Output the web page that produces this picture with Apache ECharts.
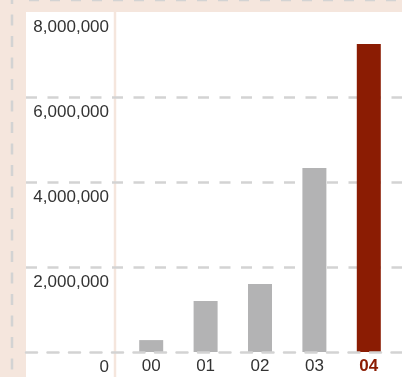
<!DOCTYPE html>
<html>
<head>
<meta charset="utf-8">
<style>
  html, body { margin: 0; padding: 0; background: #f5e6dd; }
  #chart { width: 402px; height: 377px; }
</style>
<script src="https://cdn.jsdelivr.net/npm/echarts@6/dist/echarts.min.js"></script>
</head>
<body>
<div id="chart"></div>
<script>
// Yearly totals, '00 through '04
const categories = ['00', '01', '02', '03', '04'];
const values = [280000, 1200000, 1600000, 4330000, 7250000];
const yTicks = { min: 0, max: 8000000, interval: 2000000 };

const BEIGE = '#f5e6dd';
const GRID_GRAY = '#d3d3d3';
const BAR_GRAY = '#b3b3b4';
const ACCENT = '#8b1c03';
const TEXT = '#333333';
const FONT = '"Liberation Sans", Arial, sans-serif';

const last = categories.length - 1;

const chart = echarts.init(document.getElementById('chart'), null, { renderer: 'canvas' });

const dashed = { color: GRID_GRAY, width: 2.5, type: [11, 10.5] };

chart.setOption({
  backgroundColor: BEIGE,
  animation: false,
  graphic: [
    // white plotting panel
    { type: 'rect', z: -5, silent: true,
      shape: { x: 26, y: 12, width: 376, height: 365 },
      style: { fill: '#ffffff' } },
    // beige rule beside the value labels
    { type: 'line', z: -4, silent: true,
      shape: { x1: 115, y1: 12, x2: 115, y2: 377 },
      style: { stroke: BEIGE, lineWidth: 2.5 } },
    // dashed frame edges in the margin
    { type: 'line', z: -4, silent: true,
      shape: { x1: 12, y1: 0, x2: 12, y2: 377 },
      style: { stroke: GRID_GRAY, lineWidth: 2.5, lineDash: [11, 10.5], lineDashOffset: 7 } },
    { type: 'line', z: -4, silent: true,
      shape: { x1: 29, y1: 0, x2: 402, y2: 0 },
      style: { stroke: GRID_GRAY, lineWidth: 2.5, lineDash: [10, 11] } }
  ],
  grid: [
    // full-width grid carrying the dashed guide lines
    { left: 26, right: 0, top: 12, bottom: 25 },
    // grid holding the bars
    { left: 124, right: 6, top: 12, bottom: 25 }
  ],
  xAxis: [
    { gridIndex: 0, type: 'value', min: 0, max: 1, z: 3,
      axisLine: { show: true, lineStyle: dashed },
      axisTick: { show: false }, axisLabel: { show: false }, splitLine: { show: false } },
    { gridIndex: 1, type: 'category',
      data: categories.map((c, i) => i === last
        ? { value: c, textStyle: { color: ACCENT, fontWeight: 'bold' } }
        : c),
      axisLine: { show: false }, axisTick: { show: false },
      axisLabel: { color: TEXT, fontFamily: FONT, fontSize: 17, margin: 6, lineHeight: 17 } }
  ],
  yAxis: [
    { gridIndex: 0, type: 'value', min: yTicks.min, max: yTicks.max, interval: yTicks.interval,
      axisLine: { show: false }, axisTick: { show: false }, axisLabel: { show: false },
      splitLine: { show: true, showMinLine: false, showMaxLine: false, lineStyle: dashed } },
    { gridIndex: 1, type: 'value', min: yTicks.min, max: yTicks.max, interval: yTicks.interval,
      axisLine: { show: false }, axisTick: { show: false }, splitLine: { show: false },
      axisLabel: {
        color: TEXT, fontFamily: FONT, fontSize: 17, margin: 15,
        verticalAlign: 'top', lineHeight: 17, padding: [7, 0, 0, 0],
        formatter: v => v.toLocaleString('en-US')
      } }
  ],
  series: [{
    type: 'bar',
    xAxisIndex: 1, yAxisIndex: 1,
    barWidth: 24,
    data: values.map((v, i) => ({
      value: v,
      itemStyle: { color: i === last ? ACCENT : BAR_GRAY }
    }))
  }]
});
</script>
</body>
</html>
